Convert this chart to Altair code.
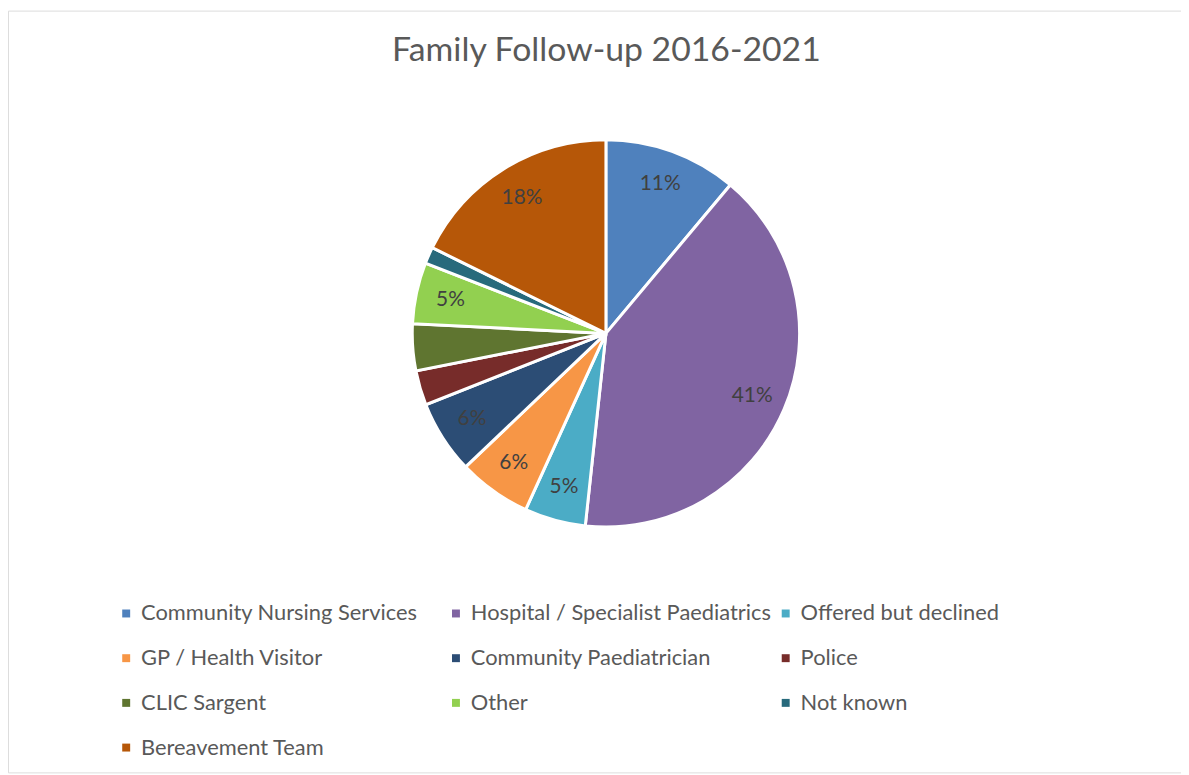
import altair as alt
import pandas as pd

categories = [
    "Community Nursing Services",
    "Hospital / Specialist Paediatrics",
    "Offered but declined",
    "GP / Health Visitor",
    "Community Paediatrician",
    "Police",
    "CLIC Sargent",
    "Other",
    "Not known",
    "Bereavement Team",
]
shares = [11.1, 40.6, 5.1, 6.1, 6.1, 2.9, 3.9, 5.1, 1.4, 17.7]
show_label = [True, True, True, True, True, False, False, True, False, True]
colors = ["#4F81BD", "#8064A2", "#4BACC6", "#F79646", "#2C4D75",
          "#772C2A", "#5F7530", "#92D050", "#276A7C", "#B65708"]

df = pd.DataFrame({
    "category": categories,
    "share": shares,
    "show": show_label,
    "idx": list(range(len(categories))),
})
total = sum(shares)
df["label"] = [f"{round(v / total * 100)}%" if s else "" for v, s in zip(shares, show_label)]

FONT = "Lato"
CX, CY, R = 602, 325, 195

base = alt.Chart(df).encode(
    theta=alt.Theta("share:Q", stack=True),
    order=alt.Order("idx:Q"),
    x=alt.value(CX),
    y=alt.value(CY),
)

arcs = base.mark_arc(radius=R, stroke="white", strokeWidth=3).encode(
    color=alt.Color(
        "category:N",
        sort=categories,
        scale=alt.Scale(domain=categories, range=colors),
        legend=alt.Legend(
            title=None,
            orient="none",
            direction="horizontal",
            legendX=108,
            legendY=596,
            columns=3,
            gridAlign="all",
            symbolType="square",
            symbolSize=64,
            symbolStrokeWidth=0,
            labelFont=FONT,
            labelFontSize=22,
            labelColor="#595959",
            labelLimit=400,
            labelOffset=4,
            rowPadding=23,
            columnPadding=3,
            padding=0,
        ),
    )
)

labels = base.mark_text(radius=160, font=FONT, fontSize=21, color="#404040").encode(
    text="label:N"
)

chart = (
    alt.layer(arcs, labels)
    .properties(
        width=1181,
        height=767,
        autosize=alt.AutoSizeParams(type="none"),
        padding=0,
        title=alt.TitleParams(
            "Family Follow-up 2016-2021",
            font=FONT,
            fontSize=34,
            fontWeight="normal",
            color="#595959",
            anchor="middle",
            frame="group",
            dx=12,
            dy=62,
        ),
    )
    .configure_view(stroke="#D9D9D9", strokeWidth=1)
    .configure(background="white")
)

chart.save("out.html", embed_options={"renderer": "svg", "actions": False})
